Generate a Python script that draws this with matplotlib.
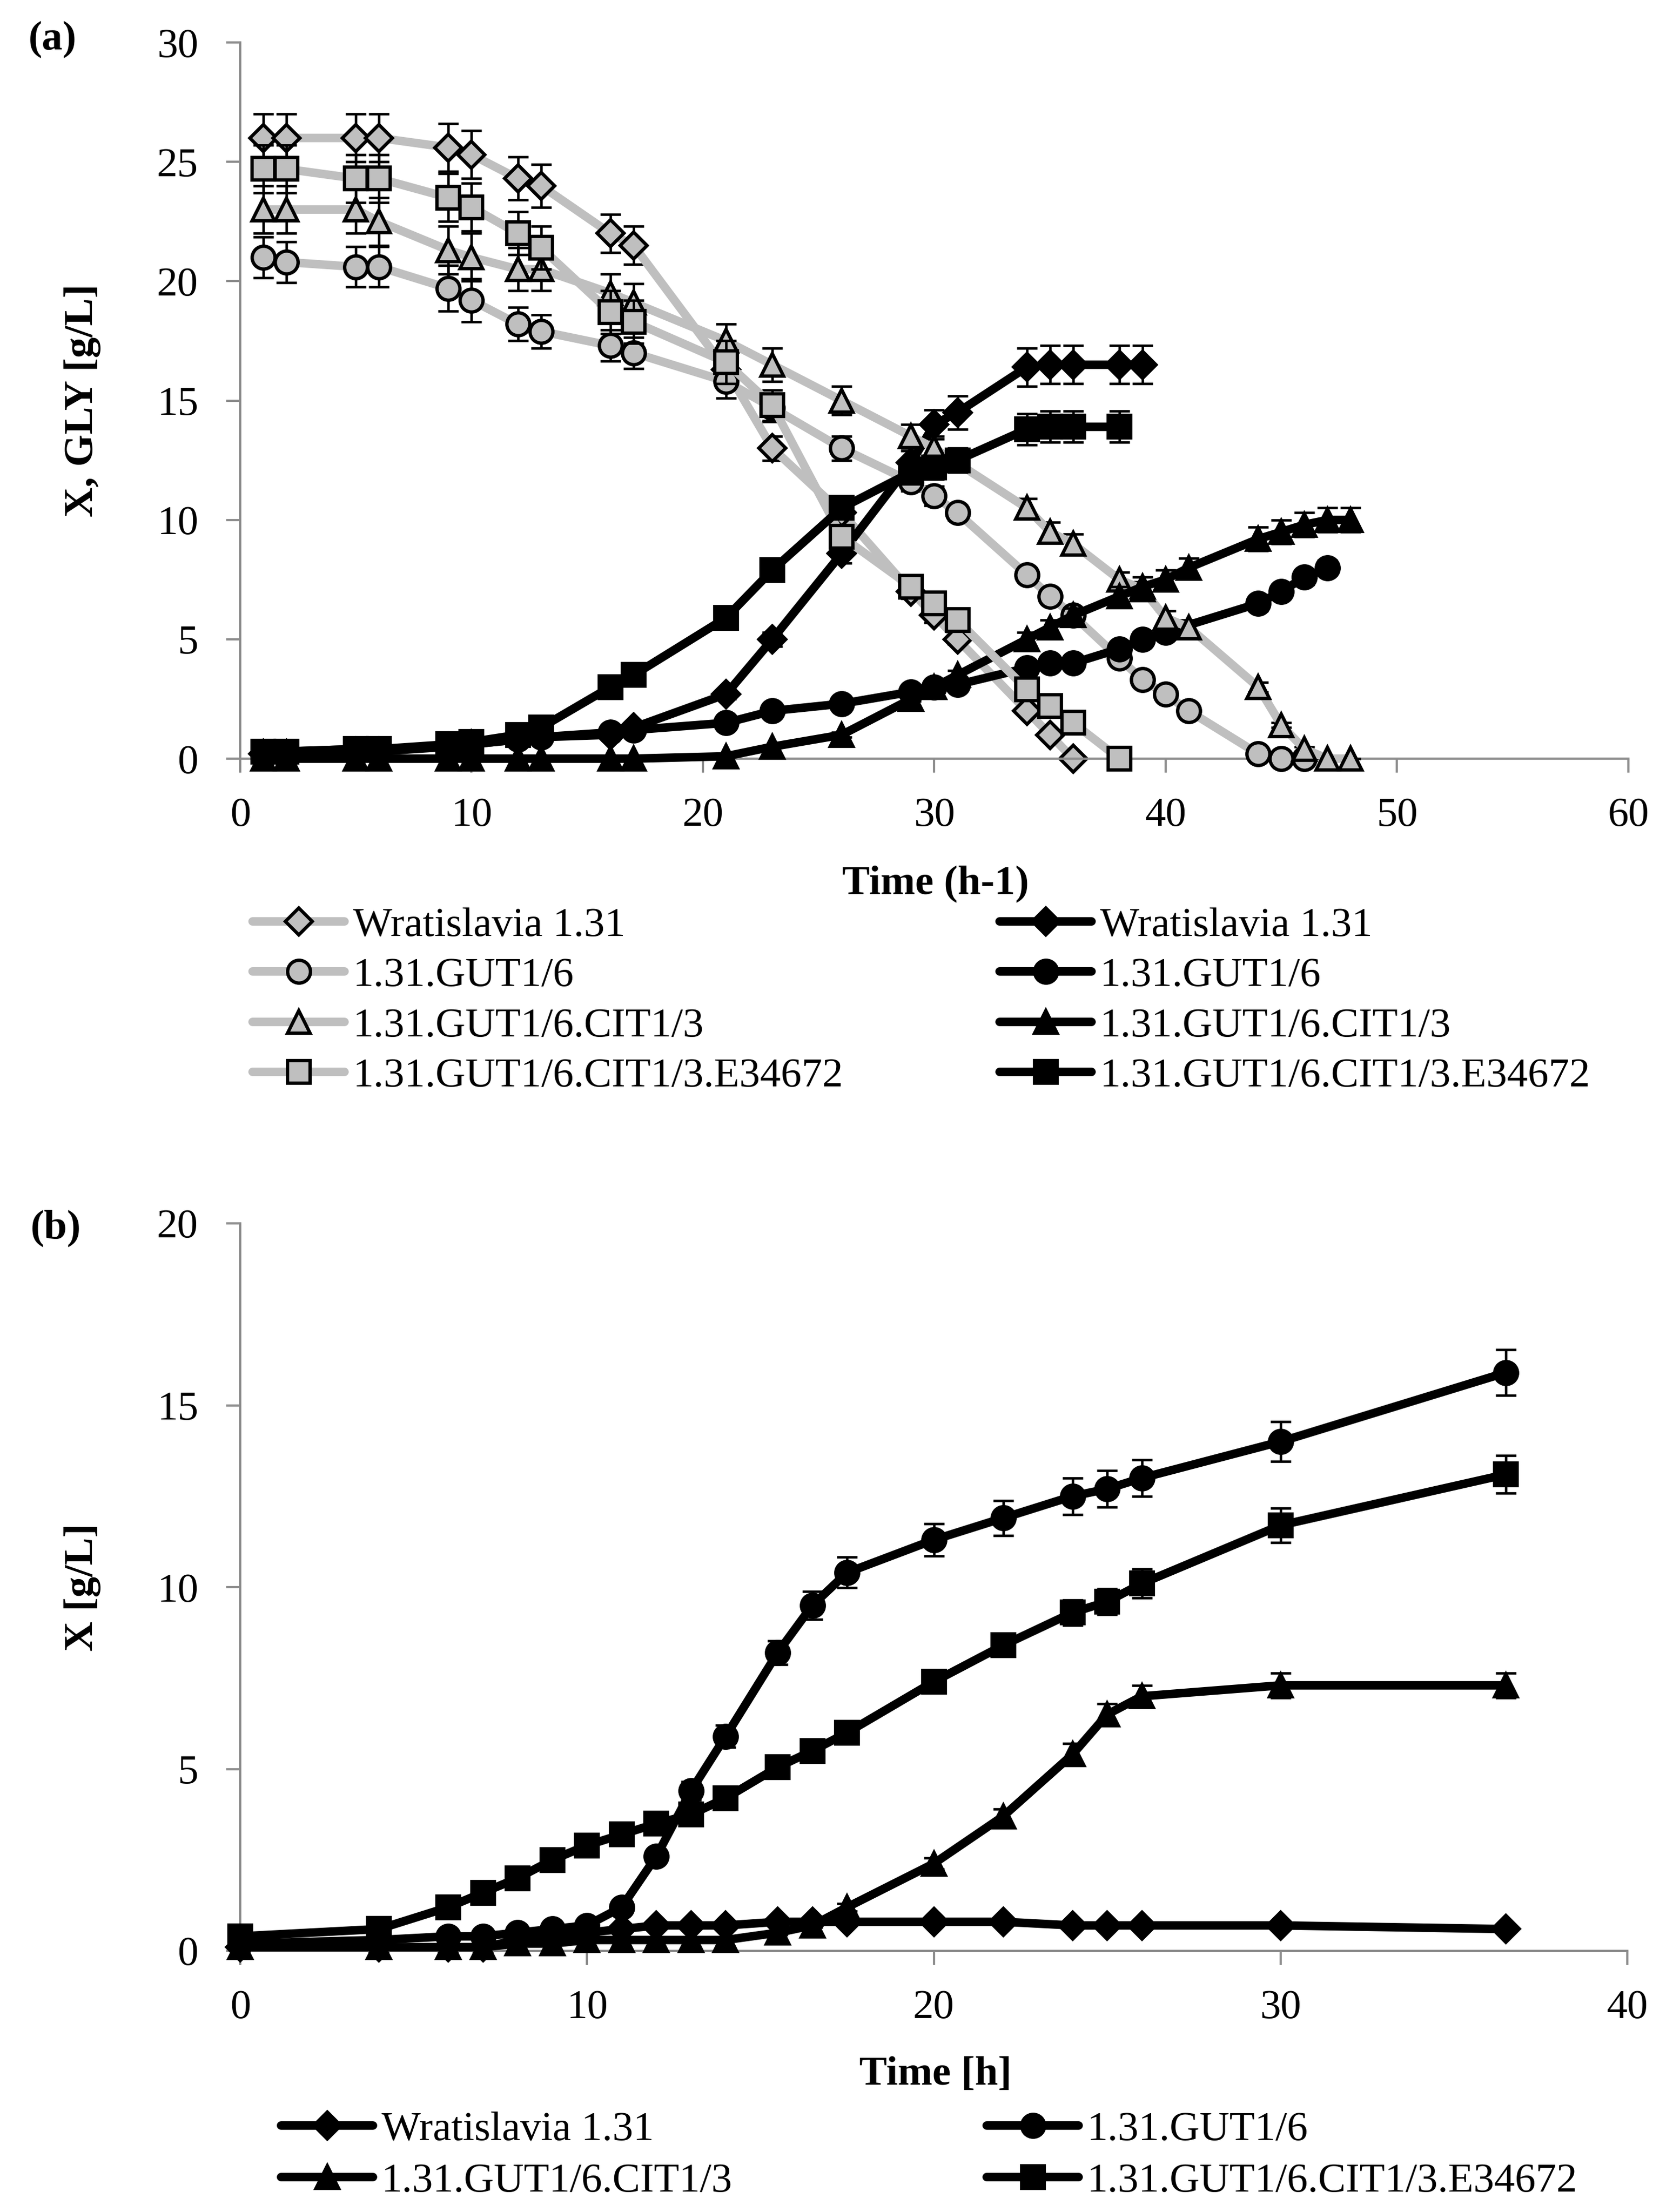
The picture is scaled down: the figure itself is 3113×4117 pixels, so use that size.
import numpy as np
import matplotlib.pyplot as plt
from matplotlib.lines import Line2D

plt.rcParams["font.family"] = ["Liberation Serif", "DejaVu Serif"]

# ---- panel (a): glycerol (grey) and biomass (black) ----
lbl_w = "Wratislavia 1.31"
lbl_g = "1.31.GUT1/6"
lbl_c = "1.31.GUT1/6.CIT1/3"
lbl_e = "1.31.GUT1/6.CIT1/3.E34672"

t_gly_w = [1, 2, 5, 6, 9, 10, 12, 13, 16, 17, 21, 23, 26, 29, 30, 31, 34, 35, 36]
gly_w = [26.0, 26.0, 26.0, 26.0, 25.6, 25.3, 24.3, 24.0, 22.0, 21.5, 16.3, 13.0, 10.3, 7.0, 6.0, 5.0, 2.0, 1.0, 0.0]
err_gly_w = [1.0, 1.0, 1.0, 1.0, 1.0, 1.0, 0.9, 0.9, 0.8, 0.8, 0.7, 0.5, 0.4, 0.3, 0.3, 0.2, 0.1, 0.1, 0.0]

t_x_w = [1, 2, 5, 6, 9, 10, 12, 13, 16, 17, 21, 23, 26, 29, 30, 31, 34, 35, 36, 38, 39]
x_w = [0.2, 0.2, 0.3, 0.3, 0.5, 0.6, 0.8, 0.9, 1.0, 1.3, 2.7, 5.0, 8.6, 12.4, 14.0, 14.5, 16.4, 16.5, 16.5, 16.5, 16.5]
err_x_w = [0.0, 0.0, 0.0, 0.0, 0.0, 0.0, 0.1, 0.1, 0.1, 0.1, 0.2, 0.3, 0.4, 0.5, 0.6, 0.7, 0.8, 0.8, 0.8, 0.8, 0.8]

t_gly_g = [1, 2, 5, 6, 9, 10, 12, 13, 16, 17, 21, 23, 26, 29, 30, 31, 34, 35, 36, 38, 39, 40, 41, 44, 45, 46]
gly_g = [21.0, 20.8, 20.6, 20.6, 19.7, 19.2, 18.2, 17.9, 17.3, 17.0, 15.8, 14.7, 13.0, 11.6, 11.0, 10.3,
         7.7, 6.8, 6.0, 4.2, 3.3, 2.7, 2.0, 0.2, 0.0, 0.0]
err_gly_g = [0.85, 0.85, 0.85, 0.85, 0.95, 0.9, 0.7, 0.7, 0.65, 0.65, 0.7, 0.6, 0.5, 0.4, 0.4, 0.3,
             0.3, 0.3, 0.2, 0.2, 0.2, 0.1, 0.1, 0.0, 0.0, 0.0]

t_x_g = [1, 2, 5, 6, 9, 10, 12, 13, 16, 17, 21, 23, 26, 29, 30, 31, 34, 35, 36, 38, 39, 40, 44, 45, 46, 47]
x_g = [0.3, 0.3, 0.4, 0.4, 0.5, 0.6, 0.8, 0.9, 1.1, 1.2, 1.5, 2.0, 2.3, 2.8, 3.0, 3.1, 3.8, 4.0, 4.0,
       4.6, 5.0, 5.3, 6.5, 7.0, 7.6, 8.0]
err_x_g = [0.0, 0.0, 0.0, 0.0, 0.0, 0.0, 0.0, 0.0, 0.1, 0.1, 0.1, 0.1, 0.1, 0.1, 0.2, 0.2, 0.2, 0.2, 0.2,
           0.2, 0.3, 0.3, 0.3, 0.3, 0.3, 0.3]

t_gly_c = [1, 2, 5, 6, 9, 10, 12, 13, 16, 17, 21, 23, 26, 29, 30, 34, 35, 36, 38, 39, 40, 41, 44, 45, 46, 47, 48]
gly_c = [23.0, 23.0, 23.0, 22.5, 21.3, 21.0, 20.5, 20.5, 19.5, 19.1, 17.5, 16.5, 15.0, 13.5, 13.0,
         10.5, 9.5, 9.0, 7.5, 7.1, 5.9, 5.5, 3.0, 1.4, 0.4, 0.0, 0.0]
err_gly_c = [1.0, 1.0, 1.0, 1.0, 1.0, 1.0, 0.9, 0.9, 0.8, 0.8, 0.7, 0.7, 0.6, 0.5, 0.5,
             0.4, 0.4, 0.4, 0.3, 0.3, 0.3, 0.3, 0.2, 0.1, 0.1, 0.0, 0.0]

t_x_c = [1, 2, 5, 6, 9, 10, 12, 13, 16, 17, 21, 23, 26, 29, 30, 31, 34, 35, 36, 38, 39, 40, 41, 44, 45, 46, 47, 48]
x_c = [0.0, 0.0, 0.0, 0.0, 0.0, 0.0, 0.0, 0.0, 0.0, 0.0, 0.1, 0.5, 1.0, 2.5, 3.0, 3.5, 5.0, 5.5, 6.0,
       6.8, 7.2, 7.5, 8.0, 9.2, 9.5, 9.8, 10.0, 10.0]
err_x_c = [0.0, 0.0, 0.0, 0.0, 0.0, 0.0, 0.0, 0.0, 0.0, 0.0, 0.0, 0.0, 0.1, 0.1, 0.2, 0.2, 0.3, 0.3, 0.3,
           0.4, 0.4, 0.4, 0.4, 0.5, 0.5, 0.5, 0.5, 0.5]

t_gly_e = [1, 2, 5, 6, 9, 10, 12, 13, 16, 17, 21, 23, 26, 29, 30, 31, 34, 35, 36, 38]
gly_e = [24.7, 24.7, 24.3, 24.3, 23.5, 23.1, 22.0, 21.4, 18.7, 18.3, 16.6, 14.8, 9.3, 7.2, 6.5, 5.8, 2.9, 2.2, 1.5, 0.0]
err_gly_e = [1.0, 1.0, 1.0, 1.0, 1.0, 1.0, 0.9, 0.9, 0.9, 0.9, 0.9, 0.65, 0.5, 0.4, 0.4, 0.3, 0.2, 0.2, 0.1, 0.0]

t_x_e = [1, 2, 5, 6, 9, 10, 12, 13, 16, 17, 21, 23, 26, 29, 30, 31, 34, 35, 36, 38]
x_e = [0.3, 0.3, 0.4, 0.4, 0.6, 0.7, 1.0, 1.3, 3.0, 3.5, 5.9, 7.9, 10.5, 12.0, 12.2, 12.5, 13.8, 13.9, 13.9, 13.9]
err_x_e = [0.0, 0.0, 0.0, 0.0, 0.0, 0.0, 0.1, 0.1, 0.1, 0.2, 0.3, 0.3, 0.4, 0.5, 0.5, 0.5, 0.65, 0.65, 0.65, 0.65]

# ---- panel (b): biomass ----
t_b = [0, 4, 6, 7, 8, 9, 10, 11, 12, 13, 14, 15.5, 16.5, 17.5, 20, 22, 24, 25, 26, 30, 36.5]
b_w = [0.1, 0.1, 0.1, 0.1, 0.3, 0.4, 0.5, 0.6, 0.7, 0.7, 0.7, 0.8, 0.8, 0.8, 0.8, 0.8, 0.7, 0.7, 0.7, 0.7, 0.6]
b_g = [0.2, 0.3, 0.4, 0.4, 0.5, 0.6, 0.7, 1.2, 2.6, 4.4, 5.9, 8.2, 9.5, 10.4, 11.3, 11.9, 12.5, 12.7, 13.0, 14.0, 15.9]
b_c = [0.1, 0.1, 0.1, 0.1, 0.2, 0.2, 0.3, 0.3, 0.3, 0.3, 0.3, 0.5, 0.7, 1.2, 2.4, 3.7, 5.4, 6.5, 7.0, 7.3, 7.3]
b_e = [0.4, 0.6, 1.2, 1.6, 2.0, 2.5, 2.9, 3.2, 3.5, 3.75, 4.2, 5.05, 5.5, 6.0, 7.4, 8.4, 9.3, 9.6, 10.1, 11.7, 13.1]
err_b_w = [0.0] * 21
err_b_g = [0.0, 0.0, 0.0, 0.0, 0.0, 0.0, 0.05, 0.1, 0.15, 0.25, 0.3, 0.33, 0.38, 0.42, 0.45, 0.48, 0.5, 0.5, 0.5, 0.55, 0.63]
err_b_c = [0.0, 0.0, 0.0, 0.0, 0.0, 0.0, 0.0, 0.0, 0.0, 0.0, 0.0, 0.05, 0.05, 0.1, 0.15, 0.2, 0.3, 0.3, 0.3, 0.34, 0.34]
err_b_e = [0.0, 0.0, 0.05, 0.05, 0.1, 0.1, 0.1, 0.15, 0.15, 0.2, 0.2, 0.25, 0.25, 0.3, 0.3, 0.3, 0.35, 0.35, 0.4, 0.47, 0.52]

W, H, DPI = 3113, 4117, 300
FS = 18.5
GRAY = "#bfbfbf"
AXIS_GRAY = "#8c8c8c"
LW = 3.8
MSIZE = {"D": 8.6, "o": 10.2, "^": 10.0, "s": 10.0}


def px(x0, y0, x1, y1):
    # pixel box (top-left origin) -> figure fraction rect
    return [x0 / W, 1 - y1 / H, (x1 - x0) / W, (y1 - y0) / H]


def style_axes(ax, xmax, ymax, xstep, ystep):
    ax.set_xlim(0, xmax)
    ax.set_ylim(0, ymax)
    ax.set_xticks(np.arange(0, xmax + 1, xstep))
    ax.set_yticks(np.arange(0, ymax + 1, ystep))
    for s in ["top", "right"]:
        ax.spines[s].set_visible(False)
    for s in ["left", "bottom"]:
        ax.spines[s].set_color(AXIS_GRAY)
        ax.spines[s].set_linewidth(1.0)
    ax.tick_params(direction="out", length=6.2, width=1.0, color=AXIS_GRAY, labelsize=FS)
    ax.tick_params(axis="x", pad=11)
    ax.tick_params(axis="y", pad=12.5)


def draw_series(ax, t, y, err, marker, color, z):
    ax.errorbar(t, y, yerr=err, fmt="none", ecolor="black", elinewidth=1.1,
                capsize=4.6, capthick=1.1, zorder=z, clip_on=False)
    ax.plot(t, y, color=color, lw=LW, marker=marker, ms=MSIZE[marker], mfc=color,
            mec="black", mew=1.5, zorder=z + 0.5, clip_on=False)


def handle(marker, color):
    return Line2D([], [], color=color, lw=LW, marker=marker, ms=MSIZE[marker],
                  mfc=color, mec="black", mew=1.5, solid_capstyle="round")


def column_legend(handles, labels, x, yc, spacing):
    fig.legend(handles, labels, loc="center left", bbox_to_anchor=(x / W, 1 - yc / H),
               frameon=False, borderpad=0, borderaxespad=0, handlelength=2.22,
               handletextpad=0.2, labelspacing=spacing, fontsize=FS)


fig = plt.figure(figsize=(W / DPI, H / DPI), dpi=DPI)

ax_a = fig.add_axes(px(447, 79, 3030, 1412))
style_axes(ax_a, 60, 30, 10, 5)
series_a = [
    (t_gly_w, gly_w, err_gly_w, "D", GRAY),
    (t_x_w, x_w, err_x_w, "D", "black"),
    (t_gly_g, gly_g, err_gly_g, "o", GRAY),
    (t_x_g, x_g, err_x_g, "o", "black"),
    (t_gly_c, gly_c, err_gly_c, "^", GRAY),
    (t_x_c, x_c, err_x_c, "^", "black"),
    (t_gly_e, gly_e, err_gly_e, "s", GRAY),
    (t_x_e, x_e, err_x_e, "s", "black"),
]
for i, (t, y, e, m, c) in enumerate(series_a):
    draw_series(ax_a, t, y, e, m, c, 2 + i)

ax_b = fig.add_axes(px(447, 2277, 3028, 3631))
style_axes(ax_b, 40, 20, 10, 5)
series_b = [
    (b_w, err_b_w, "D"),
    (b_g, err_b_g, "o"),
    (b_c, err_b_c, "^"),
    (b_e, err_b_e, "s"),
]
for i, (y, e, m) in enumerate(series_b):
    draw_series(ax_b, t_b, y, e, m, "black", 2 + i)

labels4 = [lbl_w, lbl_g, lbl_c, lbl_e]
markers4 = ["D", "o", "^", "s"]
column_legend([handle(m, GRAY) for m in markers4], labels4, 470, 1863, 0.3)
column_legend([handle(m, "black") for m in markers4], labels4, 1860, 1863, 0.3)
column_legend([handle("D", "black"), handle("^", "black")], [lbl_w, lbl_c], 523, 4012, 0.33)
column_legend([handle("o", "black"), handle("s", "black")], [lbl_g, lbl_e], 1836, 4012, 0.33)

bold = dict(fontsize=FS, fontweight="bold", ha="center", va="center")
fig.text(98 / W, 1 - 73 / H, "(a)", **bold)
fig.text(104 / W, 1 - 2286 / H, "(b)", **bold)
fig.text(153 / W, 1 - 745 / H, "X, GLY [g/L]", rotation=90, **bold)
fig.text(153 / W, 1 - 2954 / H, "X [g/L]", rotation=90, **bold)
fig.text(1741 / W, 1 - 1645 / H, "Time (h-1)", **bold)
fig.text(1741 / W, 1 - 3862 / H, "Time [h]", **bold)

fig.savefig("out.png", dpi=DPI, facecolor="white")
